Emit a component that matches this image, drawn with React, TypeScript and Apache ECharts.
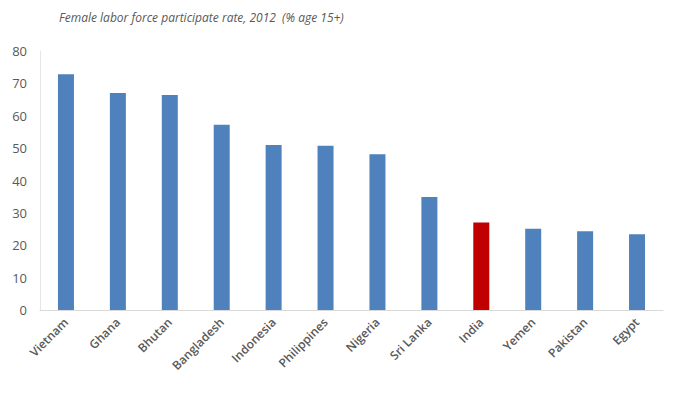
import React, { useEffect, useRef } from "react";
import * as echarts from "echarts";

const categories = ["Vietnam", "Ghana", "Bhutan", "Bangladesh", "Indonesia", "Philippines", "Nigeria", "Sri Lanka", "India", "Yemen", "Pakistan", "Egypt"];
const values = [72.8, 67.0, 66.4, 57.2, 51.0, 50.7, 48.1, 34.9, 27.0, 25.1, 24.3, 23.4];
const highlight = "India";
const yTicks = { min: 0, max: 80, interval: 10 };
const titleText = "Female labor force participate rate, 2012  (% age 15+)";

export default function App() {
  const ref = useRef<HTMLDivElement>(null);
  useEffect(() => {
    if (!ref.current) return;
    const chart = echarts.init(ref.current, null, { renderer: "svg" });
    chart.setOption({
      animation: false,
      backgroundColor: "#ffffff",
      title: {
        text: titleText,
        left: 54,
        top: 6,
        textStyle: { fontFamily: "Open Sans", fontStyle: "italic", fontWeight: "normal", fontSize: 12, color: "#595959" },
      },
      grid: { left: 40, right: 17, top: 51, bottom: 84, containLabel: false },
      xAxis: {
        type: "category",
        data: categories,
        axisLine: { show: true, lineStyle: { color: "#d9d9d9", width: 1 } },
        axisTick: { show: false },
        axisLabel: {
          rotate: 45,
          interval: 0,
          margin: 10,
          fontFamily: "Open Sans",
          fontWeight: 600,
          fontSize: 12,
          color: "#595959",
        },
      },
      yAxis: {
        type: "value",
        min: yTicks.min,
        max: yTicks.max,
        interval: yTicks.interval,
        axisLine: { show: true, lineStyle: { color: "#e6e6e6", width: 1 } },
        axisTick: { show: false },
        splitLine: { show: false },
        axisLabel: { margin: 13, fontFamily: "Open Sans", fontSize: 13, color: "#595959" },
      },
      series: [
        {
          type: "bar",
          barWidth: 16,
          data: values.map((v, i) => ({
            value: v,
            itemStyle: { color: categories[i] === highlight ? "#C00000" : "#4F81BD" },
          })),
        },
      ],
    });
    return () => chart.dispose();
  }, []);
  return <div ref={ref} style={{ width: 680, height: 394, position: "absolute", left: 0, top: 0 }} />;
}
